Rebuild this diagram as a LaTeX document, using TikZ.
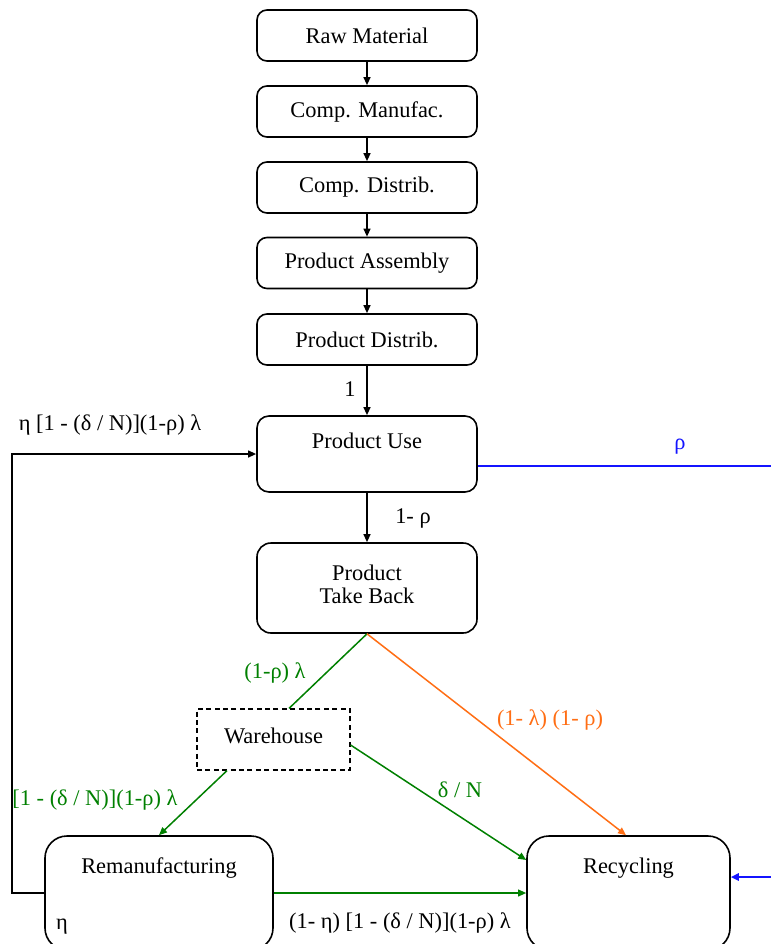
\documentclass[tikz,border=0pt]{standalone}
\usepackage{fontspec}
\setmainfont{Liberation Serif}
\usetikzlibrary{arrows.meta}
\definecolor{fgreen}{RGB}{0,128,0}
\definecolor{forange}{RGB}{255,110,20}
\definecolor{fblue}{RGB}{20,20,255}
\begin{document}
\begin{tikzpicture}[x=0.5pt,y=-0.5pt,
  font=\fontsize{11.2}{13.5}\selectfont,
  box/.style={draw, line width=0.8pt, rounded corners=5pt, minimum width=110pt, minimum height=25.5pt, inner sep=0pt, align=center},
  arr/.style={line width=0.8pt, -{Triangle[length=4pt,width=3.4pt]}},
  gline/.style={fgreen, line width=0.75pt},
  garr/.style={gline, -{Triangle[length=4pt,width=3.4pt]}},
  oarr/.style={forange, line width=0.75pt, -{Triangle[length=4pt,width=3.4pt]}},
  bline/.style={fblue, line width=1pt},
  lbl/.style={inner sep=0pt}]
\useasboundingbox (0,0) rectangle (771,944);
\clip (0,0) rectangle (771,944);
\fill[white] (0,0) rectangle (771,944);

% main chain
\node[box] (raw)  at (367,35.5)  {Raw Material};
\node[box] (cman) at (367,111.5) {Comp. Manufac.};
\node[box] (cdis) at (367,187.5) {Comp. Distrib.};
\node[box] (pasm) at (367,263)   {Product Assembly};
\node[box] (pdis) at (367,339.5) {Product Distrib.};
\node[box, rounded corners=6pt, minimum height=38pt] (puse) at (367,454)
  {\raisebox{3pt}[0pt][0pt]{Product Use}};
\node[box, rounded corners=7pt, minimum height=45pt, yshift=0pt] (ptb) at (367,588)
  {\raisebox{2pt}[\height][\depth]{\shortstack{Product\\[0.5pt]Take Back}}};
\node[draw, dashed, dash pattern=on 2.5pt off 1.7pt, line width=0.6pt,
  minimum width=76.5pt, minimum height=30.5pt, inner sep=0pt] (wh) at (273.5,739.5)
  {\raisebox{2pt}[\height][\depth]{Warehouse}};
\node[box, rounded corners=11pt, minimum width=114pt, minimum height=57pt] (reman) at (159,893)
  {\raisebox{10pt}[0pt][0pt]{Remanufacturing}};
\node[box, rounded corners=11pt, minimum width=101.5pt, minimum height=57pt] (recy) at (628.5,893)
  {\raisebox{10pt}[0pt][0pt]{Recycling}};
\node[lbl] (eta) at (62,927) {η};

% coordinates for free ends
\coordinate (lx) at (12,0);
\coordinate (bout) at (771,466);
\coordinate (bin) at (771,877);

% black arrows
\draw[arr] (raw) -- (cman);
\draw[arr] (cman) -- (cdis);
\draw[arr] (cdis) -- (pasm);
\draw[arr] (pasm) -- (pdis);
\draw[arr] (pdis) -- (puse);
\draw[arr] (puse) -- (ptb);
\draw[arr] (reman.west) -- (reman.west -| lx) |- (puse.west);

% blue
\draw[bline] ([yshift=-6pt]puse.east) -- (bout);
\draw[bline, -{Triangle[length=4pt,width=3.6pt]}] (bin) -- ([yshift=8pt]recy.east);

% green / orange
\draw[gline] (ptb.south) -- ([xshift=7.75pt]wh.north);
\draw[oarr] (ptb.south) -- ([xshift=-1.25pt]recy.north);
\draw[garr] ([xshift=-23.25pt]wh.south) -- (reman.north);
\draw[garr] ([yshift=-2.75pt]wh.east) -- ([yshift=16.5pt]recy.west);
\draw[garr] (reman.east) -- (recy.west);

% labels
\node[lbl] (l1) at (350,389) {1};
\node[lbl] (l2) at (413,518) {1- ρ};
\node[lbl] (l3) at (110,425) {η [1 - (δ / N)](1-ρ) λ};
\node[lbl, text=fblue] (l4) at (680,447) {ρ};
\node[lbl, text=fgreen] (l5) at (275,673) {(1-ρ) λ};
\node[lbl, text=forange] (l6) at (550,720) {(1- λ) (1- ρ)};
\node[lbl, text=fgreen] (l7) at (95,800) {[1 - (δ / N)](1-ρ) λ};
\node[lbl, text=fgreen] (l8) at (460,790) {δ / N};
\node[lbl] (l9) at (400,923) {(1- η) [1 - (δ / N)](1-ρ) λ};
\end{tikzpicture}
\end{document}
